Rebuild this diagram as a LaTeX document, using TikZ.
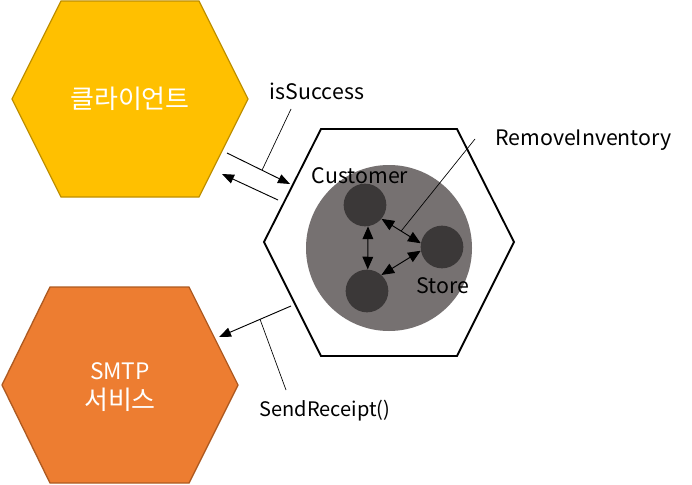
\documentclass[tikz,border=0pt]{standalone}
\usepackage{fontspec}
\setmainfont{Noto Sans CJK KR}
\usetikzlibrary{arrows.meta,calc}
\definecolor{cliFill}{HTML}{FFC000}
\definecolor{cliLine}{HTML}{BF9000}
\definecolor{mailFill}{HTML}{ED7D31}
\definecolor{mailLine}{HTML}{AE5A21}
\definecolor{domFill}{HTML}{767171}
\definecolor{entFill}{HTML}{3B3838}
\tikzset{
  hxcli/.style={draw=cliLine, fill=cliFill, line width=1pt},
  hxmail/.style={draw=mailLine, fill=mailFill, line width=1pt},
  hxcore/.style={draw=black, fill=white, line width=1.4pt},
  hxlab/.style={font=\fontsize{19.5}{22.5}\selectfont, text=white, align=center, inner sep=0pt},
  txlab/.style={font=\fontsize{16}{19}\selectfont, inner sep=0pt},
  dom/.style={circle, fill=domFill, minimum size=124.5pt, inner sep=0pt},
  ent/.style={circle, fill=entFill, minimum size=32pt, inner sep=0pt},
  msg/.style={line width=0.7pt, -{Triangle[length=9pt,width=7pt]}},
  evt/.style={line width=0.7pt, {Triangle[length=9.5pt,width=8pt]}-{Triangle[length=9.5pt,width=8pt]}},
  callout/.style={line width=0.5pt},
}
\begin{document}
\begin{tikzpicture}[x=0.75pt,y=-0.75pt]
  \useasboundingbox (0,0) rectangle (692,485);
  % outer hexagons
  \draw[hxcli] (61,1) -- (199,1) -- (248,99) -- (199,197) -- (61,197) -- (12,99) -- cycle;
  \node[hxlab] (cli) at (130,99) {클라이언트};
  \draw[hxmail] (50,287) -- (189,287) -- (238,385) -- (189,483) -- (50,483) -- (2,385) -- cycle;
  \node[hxlab] (smtp) at (120,387) {{\fontsize{17}{22.5}\selectfont SMTP}\\서비스};
  % core hexagon
  \draw[hxcore] (321,129) -- (457,129) -- (514,242) -- (457,356) -- (321,356) -- (264,242) -- cycle;
  \node[dom] (core) at (389,248) {};
  \node[ent] (cust) at (365,205) {};
  \node[ent] (store) at (442,247) {};
  \node[ent] (item) at (367,291) {};
  \draw[evt] (cust.-82) -- (item.88);
  \draw[evt] (cust.-40) -- coordinate[pos=0.5] (remC) (store.170);
  \draw[evt] (item.48) -- (store.190);
  \node[txlab] (custLab) at (360,176) {Customer};
  \node[txlab] (storeLab) at (443,286) {Store};
  % messages
  \coordinate (reqS) at (227,153);
  \coordinate (reqE) at (290,184);
  \coordinate (resS) at (278,200);
  \coordinate (resE) at (222,174);
  \coordinate (mailS) at (291,306);
  \coordinate (mailE) at (219,337);
  \draw[msg] (reqS) -- coordinate[pos=0.556] (reqC) (reqE);
  \draw[msg] (resS) -- (resE);
  \draw[msg] (mailS) -- coordinate[pos=0.43] (mailC) (mailE);
  % callouts
  \node[txlab] (issLab) at (317,91) {isSuccess};
  \node[txlab, anchor=west] (remLab) at (495,140) {RemoveInventory};
  \node[txlab, font=\fontsize{15}{18}\selectfont] (sndLab) at (325,411) {SendReceipt()};
  \coordinate (issTip) at (291,109);
  \coordinate (remTip) at (475,139);
  \coordinate (sndTip) at (286,390);
  \draw[callout] (reqC) -- (issTip);
  \draw[callout] (remC) -- (remTip);
  \draw[callout] (mailC) -- (sndTip);
\end{tikzpicture}
\end{document}
